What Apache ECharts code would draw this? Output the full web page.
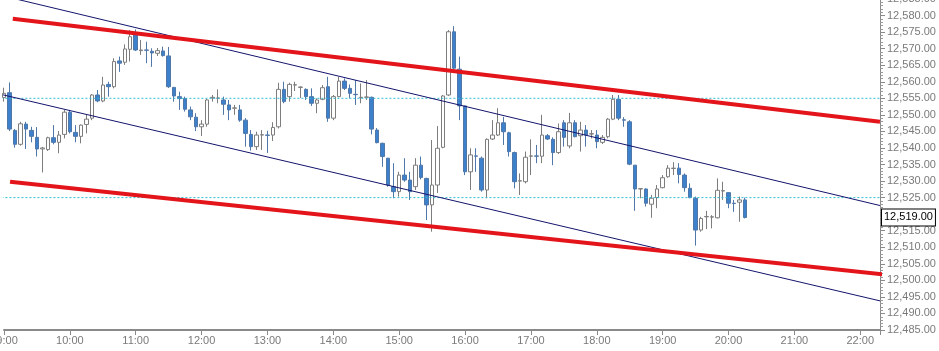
<!DOCTYPE html>
<html>
<head>
<meta charset="utf-8">
<script src="https://cdn.jsdelivr.net/npm/echarts/dist/echarts.min.js"></script>
<style>
html, body { margin: 0; padding: 0; background: #fff; }
#chart { width: 939px; height: 351px; }
</style>
</head>
<body>
<div id="chart"></div>
<script>
// 5-minute candles, first one at 09:00 (minutes since midnight)
var firstCandle = 540;
var candleStep = 5;

var opens = [
    12555.2, 12556.7, 12545.3, 12541.1, 12547.2, 12545.3, 12543.2, 12539.7, 12539.5, 12543.1,
    12541.7, 12544.1, 12550.8, 12544.7, 12543.5, 12547.1, 12549.0, 12556.0, 12554.2, 12559.2,
    12558.5, 12566.3, 12565.9, 12569.8, 12574.6, 12569.4, 12569.6, 12569.2, 12568.6, 12569.3,
    12567.8, 12558.3, 12555.5, 12554.9, 12551.5, 12549.3, 12546.4, 12547.2, 12555.1, 12555.0,
    12554.5, 12553.0, 12552.0, 12551.5, 12548.4, 12544.1, 12540.4, 12543.9, 12543.9, 12543.9,
    12546.4, 12557.7, 12555.5, 12559.0, 12558.3, 12557.7, 12555.5, 12553.5, 12554.7, 12558.5,
    12549.0, 12555.5, 12560.2, 12558.0, 12556.2, 12555.2, 12555.3, 12555.3, 12545.4, 12541.4,
    12536.9, 12528.3, 12526.8, 12531.8, 12530.3, 12528.3, 12534.8, 12530.8, 12522.8, 12528.8,
    12540.2, 12556.0, 12575.1, 12563.8, 12552.7, 12532.8, 12537.6, 12536.9, 12527.3, 12542.7,
    12543.9, 12547.6, 12544.6, 12538.6, 12530.0, 12529.8, 12537.5, 12537.6, 12537.5, 12543.7,
    12542.6, 12538.6, 12547.6, 12540.6, 12547.6, 12543.7, 12545.4, 12544.2, 12543.9, 12541.7,
    12543.4, 12548.7, 12554.7, 12548.5, 12547.9, 12534.8, 12527.6, 12527.6, 12523.0, 12525.0,
    12528.0, 12531.3, 12533.8, 12533.9, 12531.8, 12527.8, 12524.8, 12515.2, 12519.2, 12519.1,
    12518.9, 12527.0, 12526.5, 12523.3, 12523.6, 12524.3
];
var closes = [
    12556.5, 12545.7, 12541.1, 12547.3, 12545.7, 12543.5, 12539.7, 12540.0, 12543.1, 12541.7,
    12543.9, 12550.8, 12544.9, 12543.5, 12546.9, 12548.7, 12556.0, 12554.2, 12559.0, 12558.5,
    12566.1, 12565.6, 12569.9, 12573.6, 12569.6, 12569.6, 12569.5, 12568.7, 12569.4, 12567.9,
    12558.5, 12555.7, 12554.9, 12551.7, 12549.4, 12546.4, 12547.2, 12554.5, 12555.3, 12555.1,
    12553.2, 12551.5, 12552.1, 12548.4, 12544.4, 12540.4, 12543.9, 12544.0, 12543.8, 12546.2,
    12557.7, 12554.0, 12559.2, 12559.1, 12558.4, 12555.5, 12553.5, 12554.5, 12558.2, 12549.0,
    12555.5, 12560.2, 12558.0, 12556.5, 12556.1, 12555.3, 12555.4, 12545.7, 12541.6, 12537.4,
    12528.8, 12526.8, 12531.8, 12530.3, 12526.8, 12534.8, 12531.1, 12522.8, 12528.8, 12539.9,
    12555.7, 12575.1, 12564.1, 12552.7, 12532.8, 12537.9, 12537.5, 12527.3, 12542.6, 12543.9,
    12547.6, 12544.9, 12538.9, 12529.8, 12530.1, 12537.2, 12537.6, 12537.5, 12543.9, 12542.7,
    12538.6, 12544.9, 12543.2, 12547.6, 12543.4, 12545.4, 12543.9, 12544.3, 12541.9, 12543.2,
    12548.7, 12554.7, 12549.0, 12548.4, 12535.1, 12527.6, 12527.7, 12523.3, 12524.8, 12527.6,
    12531.0, 12533.9, 12533.9, 12532.0, 12528.0, 12525.0, 12515.2, 12518.7, 12519.3, 12519.2,
    12527.2, 12527.1, 12523.3, 12523.2, 12524.3, 12519.0
];
var lows = [
    12554.0, 12545.1, 12540.1, 12540.7, 12539.7, 12541.7, 12537.4, 12532.6, 12539.1, 12541.1,
    12538.4, 12542.9, 12544.4, 12541.7, 12541.4, 12544.4, 12548.4, 12553.8, 12553.8, 12555.5,
    12558.0, 12563.0, 12565.1, 12566.1, 12569.3, 12568.1, 12565.6, 12564.5, 12567.8, 12567.6,
    12558.1, 12554.0, 12551.5, 12551.0, 12548.4, 12545.1, 12543.6, 12546.4, 12554.0, 12553.5,
    12550.0, 12548.4, 12550.0, 12547.9, 12540.4, 12539.2, 12539.4, 12539.4, 12538.5, 12542.1,
    12545.9, 12553.5, 12554.0, 12557.2, 12555.1, 12554.5, 12552.7, 12550.5, 12554.4, 12547.9,
    12548.4, 12555.3, 12557.5, 12555.0, 12553.0, 12553.5, 12554.5, 12544.1, 12541.4, 12534.3,
    12528.3, 12524.8, 12525.3, 12529.8, 12524.3, 12527.3, 12530.5, 12518.2, 12514.7, 12526.4,
    12539.9, 12555.7, 12563.8, 12548.4, 12531.8, 12527.3, 12532.8, 12526.8, 12524.8, 12542.4,
    12543.6, 12540.9, 12537.4, 12527.8, 12525.8, 12529.3, 12531.8, 12535.4, 12535.4, 12542.4,
    12534.8, 12538.2, 12540.4, 12539.9, 12543.2, 12538.9, 12540.4, 12542.9, 12539.9, 12541.2,
    12542.9, 12548.4, 12548.4, 12546.4, 12534.8, 12521.0, 12524.8, 12522.3, 12518.9, 12521.8,
    12527.8, 12531.0, 12531.8, 12529.3, 12526.8, 12524.8, 12510.5, 12514.7, 12515.5, 12515.7,
    12518.7, 12524.3, 12521.8, 12520.7, 12517.7, 12518.7
];
var highs = [
    12558.2, 12559.8, 12545.7, 12547.9, 12547.9, 12546.4, 12546.3, 12540.3, 12543.4, 12546.9,
    12545.1, 12551.5, 12551.5, 12546.9, 12547.1, 12550.0, 12556.3, 12557.5, 12561.5, 12560.0,
    12567.1, 12567.6, 12571.3, 12575.6, 12575.8, 12572.6, 12572.1, 12570.1, 12570.2, 12570.6,
    12570.5, 12558.4, 12557.0, 12555.5, 12552.5, 12550.5, 12548.4, 12554.8, 12556.0, 12557.7,
    12555.5, 12554.5, 12553.0, 12553.0, 12549.0, 12545.4, 12544.9, 12545.4, 12545.2, 12547.8,
    12559.7, 12560.0, 12559.7, 12560.0, 12558.6, 12558.0, 12558.0, 12555.0, 12559.0, 12561.5,
    12556.0, 12561.5, 12561.0, 12559.2, 12560.5, 12559.5, 12560.5, 12555.5, 12546.0, 12541.6,
    12537.0, 12535.4, 12532.8, 12536.9, 12532.8, 12536.9, 12537.4, 12531.0, 12542.4, 12546.6,
    12556.0, 12575.6, 12576.8, 12567.6, 12552.8, 12539.9, 12539.9, 12537.4, 12542.9, 12548.4,
    12552.0, 12549.4, 12544.9, 12538.9, 12532.3, 12538.9, 12542.6, 12540.9, 12550.0, 12544.2,
    12543.2, 12547.4, 12548.4, 12550.6, 12548.4, 12547.9, 12546.9, 12545.4, 12545.4, 12543.9,
    12549.0, 12556.0, 12556.0, 12549.3, 12548.4, 12534.8, 12527.8, 12527.8, 12525.8, 12528.8,
    12531.8, 12534.8, 12535.7, 12535.4, 12532.3, 12529.3, 12525.3, 12519.2, 12521.0, 12519.7,
    12530.8, 12529.8, 12526.6, 12524.3, 12525.3, 12525.0
];

// trend channel lines drawn on the chart: [minute, price] end points
var redUpper = [[548, 12579.0], [1338, 12547.9]];
var redLower = [[545.5, 12529.8], [1360, 12501.1]];
var navyUpper = [[534.5, 12586.3], [1338, 12522.6]];
var navyLower = [[534.5, 12556.4], [1338, 12493.8]];
// dotted horizontal levels
var levels = [12555, 12525];
var lastPrice = 12519;

var xMin = 540, xMax = 1338;
var yMin = 12485, yMax = 12585;

var FONT = 'Arial, "Liberation Sans", sans-serif';

function fmtPrice(v) {
    var p = (+v).toFixed(2).split('.');
    return p[0].replace(/\B(?=(\d{3})+(?!\d))/g, ',') + '.' + p[1];
}

function fmtHour(v) {
    if (Math.abs(v % 60) > 0.001) return '';
    var h = Math.round(v / 60);
    return (h < 10 ? '0' : '') + h + ':00';
}

var candleData = opens.map(function (o, i) {
    return [firstCandle + i * candleStep, o, closes[i], lows[i], highs[i]];
});

function trendLine(points, color, width) {
    return {
        type: 'line',
        data: points,
        symbol: 'none',
        clip: false,
        silent: true,
        animation: false,
        lineStyle: { color: color, width: width }
    };
}

var series = [{
    type: 'candlestick',
    data: candleData,
    encode: { x: 0, y: [1, 2, 3, 4] },
    barWidth: 4,
    clip: false,
    animation: false,
    itemStyle: {
        color: '#ffffff',
        borderColor: '#7d7d7d',
        color0: '#3d80cc',
        borderColor0: '#4f77a8',
        borderWidth: 1
    }
}];

// both dotted levels in one series, broken by a null gap
var levelPoints = [];
levels.forEach(function (lv, i) {
    if (i > 0) levelPoints.push(null);
    levelPoints.push([534, lv], [xMax, lv]);
});
series.push({
    type: 'line',
    data: levelPoints,
    connectNulls: false,
    symbol: 'none',
    clip: false,
    silent: true,
    animation: false,
    z: 3,
    lineStyle: { color: '#2fbcd6', width: 1, type: [2, 2] }
});

series.push(trendLine(navyUpper, '#14146e', 1));
series.push(trendLine(navyLower, '#14146e', 1));
series.push(trendLine(redUpper, '#e3151b', 4));
series.push(trendLine(redLower, '#e3151b', 4));

// price tag on the right axis for the last close
series.push({
    type: 'line',
    data: [],
    silent: true,
    animation: false,
    markLine: {
        symbol: 'none',
        silent: true,
        animation: false,
        lineStyle: { color: 'rgba(0,0,0,0)', width: 0 },
        label: {
            show: true,
            opacity: 1,
            position: 'end',
            distance: 2,
            formatter: function () { return fmtPrice(lastPrice); },
            color: '#000',
            fontSize: 11,
            fontFamily: FONT,
            backgroundColor: '#fff',
            borderColor: '#000',
            borderWidth: 1,
            padding: [3, 2, 2, 2]
        },
        data: [{ yAxis: lastPrice }]
    },
    z: 10
});

var myChart = echarts.init(document.getElementById('chart'));

var option = {
    backgroundColor: '#fff',
    animation: false,
    grid: {
        left: 4,
        right: 59,
        top: -1,
        bottom: 21,
        containLabel: false,
        outerBoundsMode: 'none'
    },
    xAxis: {
        type: 'value',
        min: xMin,
        max: xMax,
        interval: 60,
        axisLine: { lineStyle: { color: '#8a8a8a', width: 2 } },
        axisTick: { show: true, length: 5, lineStyle: { color: '#8a8a8a' } },
        axisLabel: {
            color: '#7a7a7a',
            fontSize: 11,
            fontFamily: FONT,
            margin: 5,
            formatter: fmtHour
        },
        splitLine: { show: false }
    },
    yAxis: {
        type: 'value',
        position: 'right',
        min: yMin,
        max: yMax,
        interval: 5,
        axisLine: { show: true, lineStyle: { color: '#8a8a8a', width: 1 } },
        axisTick: { show: true, length: 5, lineStyle: { color: '#8a8a8a' } },
        minorTick: { show: true, splitNumber: 5, length: 3, lineStyle: { color: '#9a9a9a' } },
        axisLabel: {
            color: '#7a7a7a',
            fontSize: 11,
            fontFamily: FONT,
            margin: 7,
            formatter: fmtPrice
        },
        splitLine: { show: false }
    },
    series: series
};

myChart.setOption(option);
</script>
</body>
</html>
